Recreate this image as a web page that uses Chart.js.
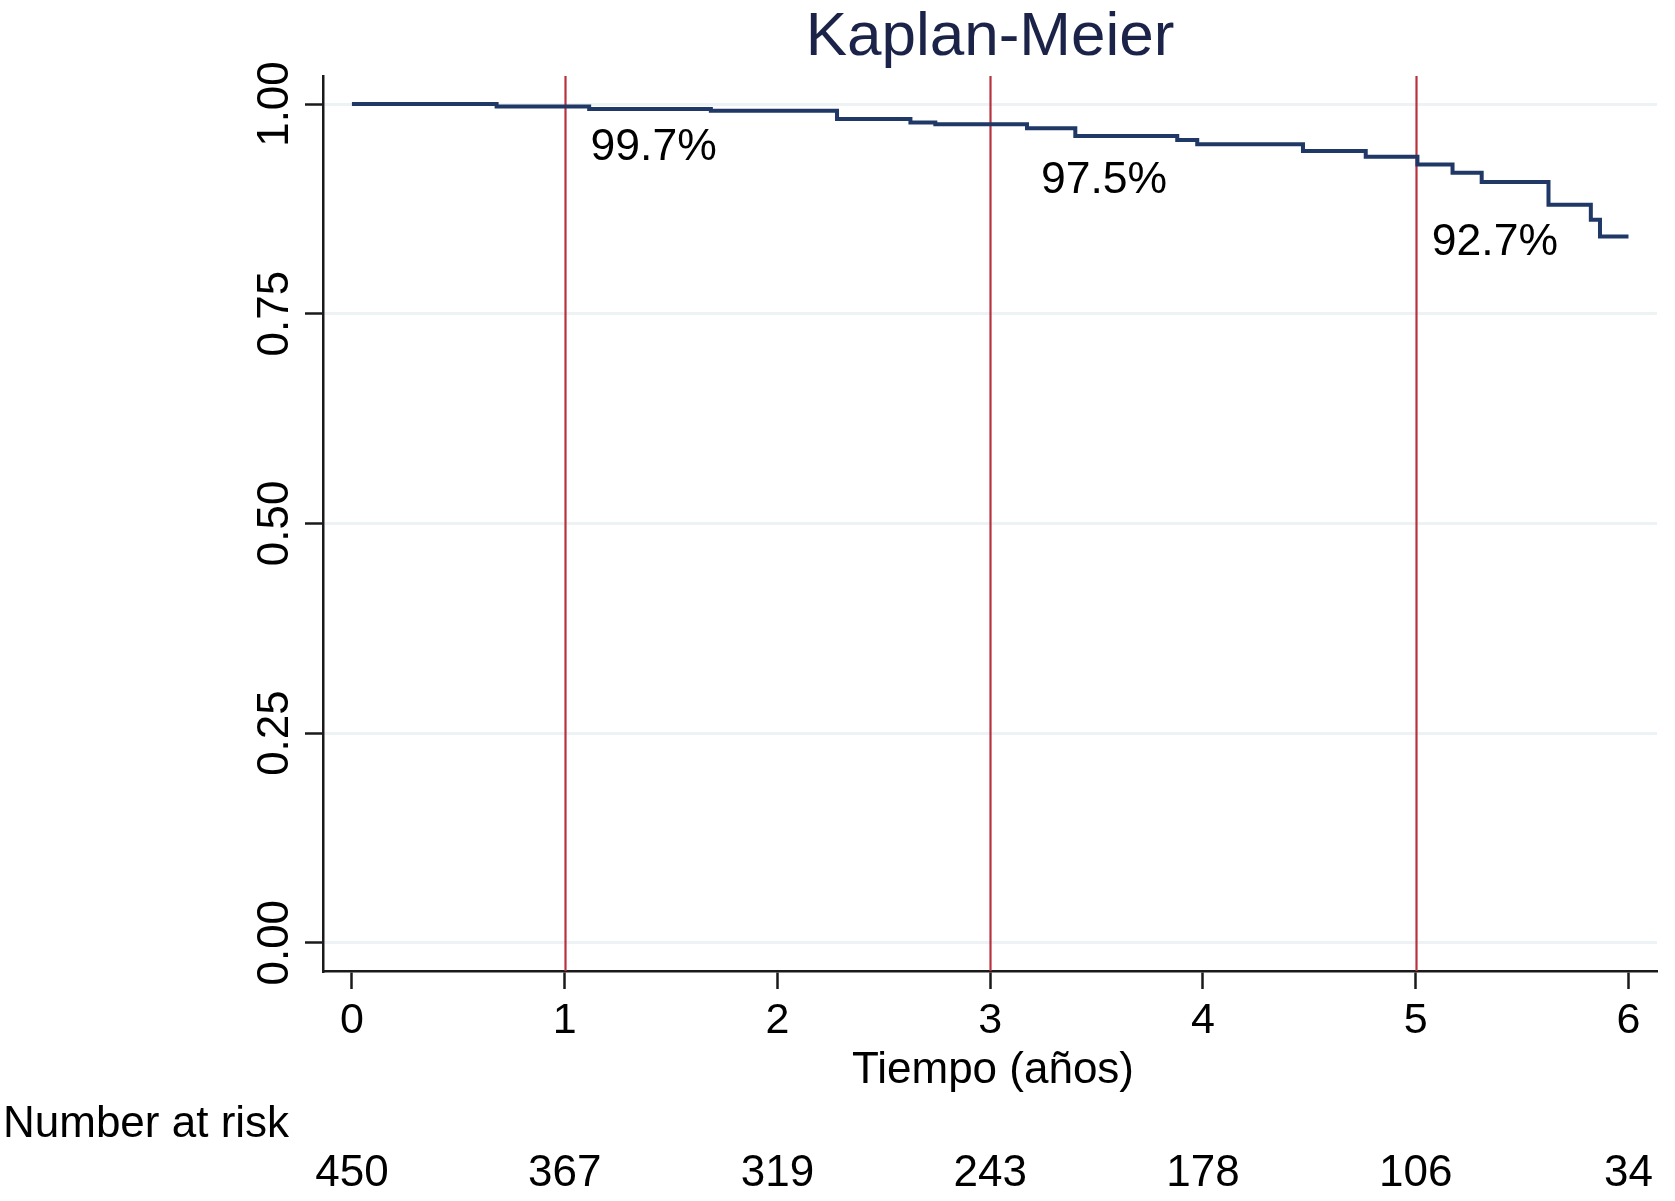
<!DOCTYPE html>
<html>
<head>
<meta charset="utf-8">
<script src="https://cdn.jsdelivr.net/npm/chart.js@4.4.1/dist/chart.umd.min.js"></script>
<style>
  html, body { margin: 0; padding: 0; background: #fff; }
  #wrap { width: 1675px; height: 1201px; }
</style>
</head>
<body>
<div id="wrap"><canvas id="km"></canvas></div>
<script>
// curva de supervivencia (tiempo en años, S(t) tras cada evento)
const times    = [0, 0.68, 1.115, 1.687, 2.28, 2.625, 2.742, 3.173, 3.40, 3.879, 3.973, 4.47, 4.765, 5.008, 5.173, 5.31, 5.624, 5.823, 5.866, 6.0];
const survival = [1.0, 0.997, 0.994, 0.992, 0.982, 0.978, 0.976, 0.971, 0.962, 0.957, 0.952, 0.944, 0.937, 0.928, 0.918, 0.907, 0.880, 0.862, 0.842, 0.842];

const xTicks = [0, 1, 2, 3, 4, 5, 6];
const yTicks = [0, 0.25, 0.5, 0.75, 1];
const yTickLabels = ["0.00", "0.25", "0.50", "0.75", "1.00"];

const markTimes  = [1, 3, 5];
const markLabels = ["99.7%", "97.5%", "92.7%"];
const markPos    = [[1.418, 0.948], [3.535, 0.909], [5.372, 0.835]];

const atRisk = [450, 367, 319, 243, 178, 106, 34];

const FONT = "'Liberation Sans', Arial, Helvetica, sans-serif";
const NAVY = "#203866";
const RED = "#b8323e";
const AXIS = "#1a1a1a";

const overlay = {
  id: "overlay",
  beforeDatasetsDraw(chart) {
    const { ctx, chartArea: a, scales: { x } } = chart;
    ctx.save();
    ctx.strokeStyle = RED;
    ctx.lineWidth = 2.2;
    for (const t of markTimes) {
      const px = Math.round(x.getPixelForValue(t)) + 0.5;
      ctx.beginPath();
      ctx.moveTo(px, a.top);
      ctx.lineTo(px, a.bottom);
      ctx.stroke();
    }
    ctx.restore();
  },
  afterDraw(chart) {
    const { ctx, chartArea: a, scales: { x, y } } = chart;
    const cx = (a.left + a.right) / 2;
    ctx.save();
    ctx.textBaseline = "alphabetic";

    // título
    ctx.fillStyle = "#1c2348";
    ctx.font = `62px ${FONT}`;
    ctx.textAlign = "center";
    ctx.fillText("Kaplan-Meier", cx, 55);

    ctx.fillStyle = "#000";

    // etiquetas eje y, giradas
    ctx.font = `44px ${FONT}`;
    yTicks.forEach((v, i) => {
      ctx.save();
      ctx.translate(288, y.getPixelForValue(v));
      ctx.rotate(-Math.PI / 2);
      ctx.textAlign = "center";
      ctx.fillText(yTickLabels[i], 0, 0);
      ctx.restore();
    });

    // etiquetas eje x
    ctx.font = `43px ${FONT}`;
    ctx.textAlign = "center";
    for (const t of xTicks) ctx.fillText(String(t), x.getPixelForValue(t), 1033);

    ctx.font = `44px ${FONT}`;
    ctx.fillText("Tiempo (años)", cx + 3, 1083);

    // porcentajes
    ctx.font = `44.5px ${FONT}`;
    ctx.textBaseline = "middle";
    markLabels.forEach((s, i) => {
      ctx.fillText(s, x.getPixelForValue(markPos[i][0]), y.getPixelForValue(markPos[i][1]));
    });

    // tabla de riesgo
    ctx.font = `44px ${FONT}`;
    ctx.textBaseline = "alphabetic";
    ctx.textAlign = "left";
    ctx.fillText("Number at risk", 3, 1137);
    ctx.textAlign = "center";
    atRisk.forEach((n, i) => ctx.fillText(String(n), x.getPixelForValue(xTicks[i]), 1186));
    ctx.restore();
  },
};

new Chart(document.getElementById("km"), {
  type: "line",
  data: {
    datasets: [{
      data: times.map((t, i) => ({ x: t, y: survival[i] })),
      borderColor: NAVY,
      borderWidth: 4,
      pointRadius: 0,
      stepped: true,
      fill: false,
    }],
  },
  options: {
    responsive: true,
    maintainAspectRatio: false,
    devicePixelRatio: 1,
    animation: false,
    events: [],
    layout: { padding: { top: 76, right: 18, left: 0, bottom: 0 } },
    plugins: { legend: { display: false }, tooltip: { enabled: false }, title: { display: false } },
    scales: {
      x: {
        type: "linear",
        min: -0.136,
        max: 6.134,
        afterBuildTicks: (s) => { s.ticks = xTicks.map((v) => ({ value: v })); },
        afterFit: (s) => { s.height = 230; },
        ticks: { display: false },
        grid: { drawOnChartArea: false, drawTicks: true, tickLength: 18, tickWidth: 2.5, tickColor: AXIS },
        border: { display: true, color: AXIS, width: 2.5 },
      },
      y: {
        type: "linear",
        min: -0.0337,
        max: 1.0334,
        afterBuildTicks: (s) => { s.ticks = yTicks.map((v) => ({ value: v })); },
        afterFit: (s) => { s.width = 323; },
        ticks: { display: false },
        grid: { color: "#edf2f5", lineWidth: 3, drawTicks: true, tickLength: 18, tickWidth: 2.5, tickColor: AXIS },
        border: { display: true, color: AXIS, width: 2.5 },
      },
    },
  },
  plugins: [overlay],
});
</script>
</body>
</html>
